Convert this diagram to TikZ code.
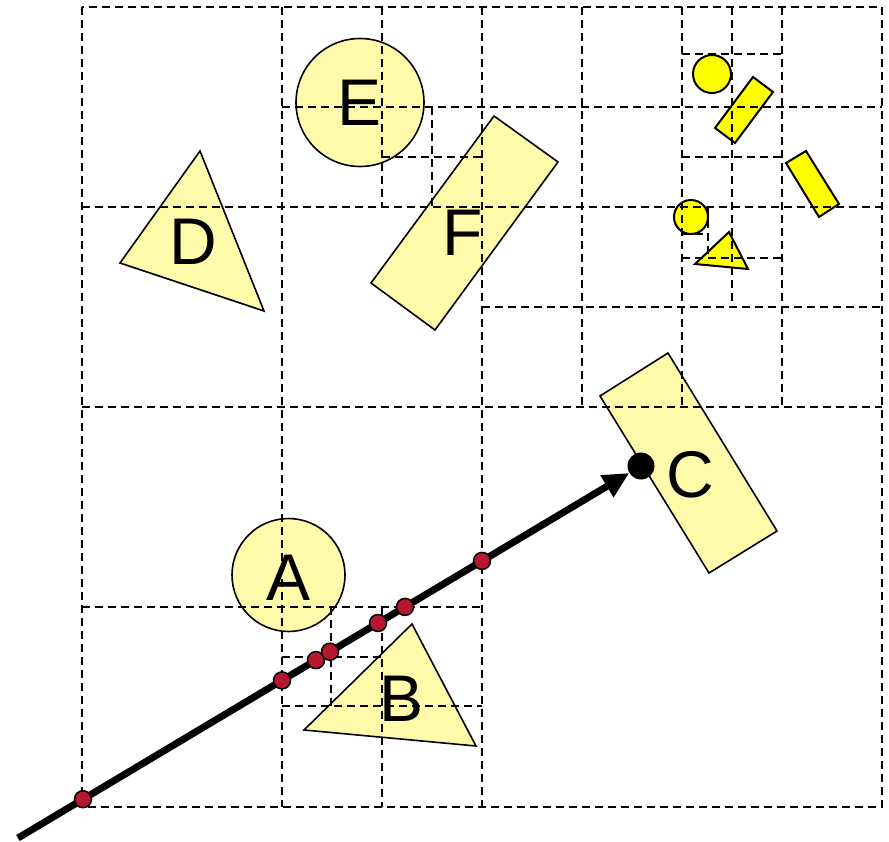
\documentclass[tikz,border=0pt]{standalone}
\usepackage{fontspec}
\setmainfont{Liberation Sans}
\usetikzlibrary{arrows.meta}
\definecolor{paleyel}{HTML}{FFFBAA}
\definecolor{brightyel}{HTML}{FFFF00}
\definecolor{dotred}{HTML}{B5182F}
\tikzset{
  gridline/.style={dash pattern=on 8pt off 5pt, line width=2.2pt},
  paleshape/.style={fill=paleyel, draw=black, line width=1.6pt},
  brightshape/.style={fill=brightyel, draw=black, line width=2pt},
  lbl/.style={font=\fontsize{66}{66}\selectfont, inner sep=0pt},
  ray/.style={line width=7pt},
  hitdot/.style={circle, fill=black, minimum size=27pt, inner sep=0pt},
  reddot/.style={circle, fill=dotred, draw=black, line width=1.5pt, minimum size=17pt, inner sep=0pt}
}
\begin{document}
\begin{tikzpicture}[x=1pt,y=-1pt]
\useasboundingbox (0,0) rectangle (889,841);
% pale shapes
\node[paleshape, circle, minimum size=113pt, inner sep=0pt] (A) at (288.5,575) {};
\node[paleshape, circle, minimum size=128pt, inner sep=0pt] (E) at (360,102.5) {};
\draw[paleshape] (304,730) -- (412,624) -- (476,746) -- cycle;
\draw[paleshape] (600,396) -- (668,353) -- (777,531) -- (709,573) -- cycle;
\draw[paleshape] (200,151) -- (120,263) -- (264,311) -- cycle;
\draw[paleshape] (371,283) -- (494,116) -- (558,162) -- (435,330) -- cycle;
% bright shapes
\node[brightshape, circle, minimum size=38pt, inner sep=0pt] (c1) at (712,74) {};
\node[brightshape, circle, minimum size=34pt, inner sep=0pt] (c2) at (691,217) {};
\draw[brightshape] (715,128) -- (753,77) -- (773,92) -- (735,143) -- cycle;
\draw[brightshape] (786,163) -- (806,151) -- (839,204) -- (819,217) -- cycle;
\draw[brightshape] (695,264) -- (729,232) -- (748,269) -- cycle;
% grid
\draw[gridline] (82,7) rectangle (882,807);
\draw[gridline] (482,7) -- (482,807);
\draw[gridline] (82,407) -- (882,407);
\draw[gridline] (282,7) -- (282,807);
\draw[gridline] (82,207) -- (882,207);
\draw[gridline] (82,607) -- (482,607);
\draw[gridline] (682,7) -- (682,407);
\draw[gridline] (382,7) -- (382,207);
\draw[gridline] (382,607) -- (382,807);
\draw[gridline] (282,107) -- (882,107);
\draw[gridline] (582,7) -- (582,407);
\draw[gridline] (782,7) -- (782,407);
\draw[gridline] (482,307) -- (882,307);
\draw[gridline] (432,107) -- (432,207);
\draw[gridline] (382,157) -- (482,157);
\draw[gridline] (732,7) -- (732,307);
\draw[gridline] (682,54) -- (782,54);
\draw[gridline] (682,157) -- (782,157);
\draw[gridline] (682,258) -- (782,258);
\draw[gridline] (708,207) -- (708,258);
\draw[gridline] (682,234) -- (708,234);
\draw[gridline] (282,706) -- (482,706);
\draw[gridline] (331,607) -- (331,706);
\draw[gridline] (282,657) -- (382,657);
% labels
\node[lbl] (lA) at (289,578) {A};
\node[lbl] (lB) at (402,699) {B};
\node[lbl] (lC) at (690,475) {C};
\node[lbl] (lD) at (193,242) {D};
\node[lbl] (lE) at (360,103) {E};
\node[lbl] (lF) at (463,233) {F};
% ray
\coordinate (start) at (18,838);
\node[hitdot] (hit) at (641,466) {};
\draw[ray, -{Triangle[length=26pt,width=24pt]}] (start) -- (hit);
\node[reddot] (r1) at (83,799.2) {};
\node[reddot] (r2) at (282,680.4) {};
\node[reddot] (r3) at (316,660.1) {};
\node[reddot] (r4) at (330,651.7) {};
\node[reddot] (r5) at (378,623.0) {};
\node[reddot] (r6) at (405,606.9) {};
\node[reddot] (r7) at (482,560.9) {};
\end{tikzpicture}
\end{document}
